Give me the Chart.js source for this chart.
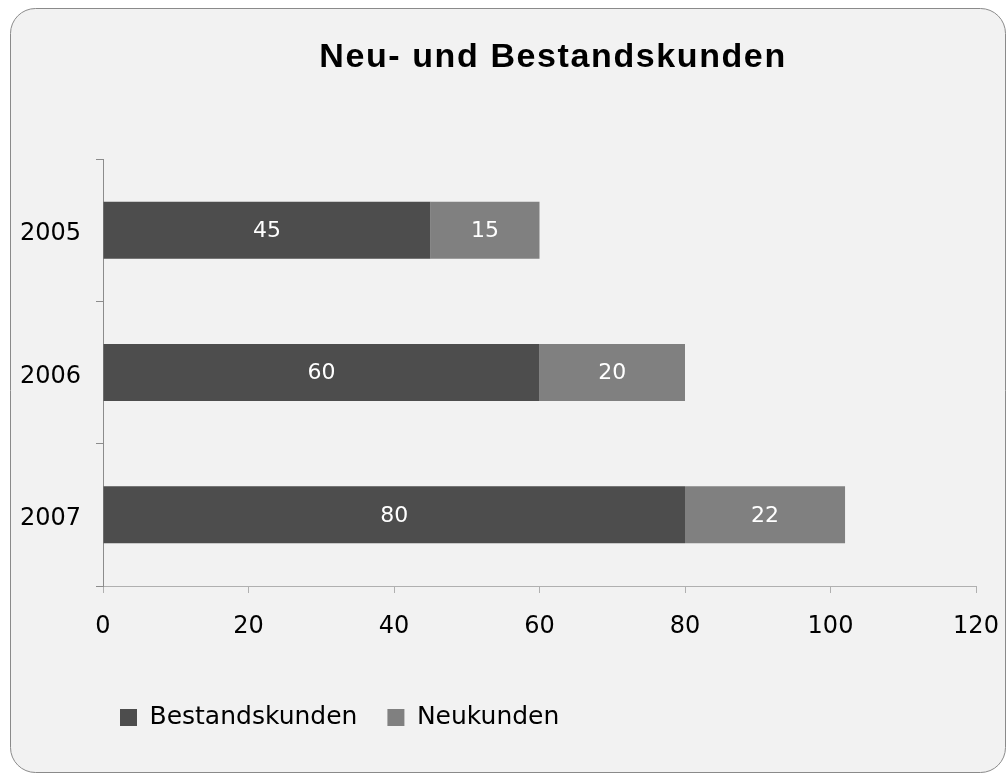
<!DOCTYPE html>
<html>
<head>
<meta charset="utf-8">
<script src="https://cdn.jsdelivr.net/npm/chart.js@4/dist/chart.umd.min.js"></script>
<style>
    html, body { margin: 0; padding: 0; background: #ffffff; }
    #wrap { width: 1007px; height: 774px; position: relative; }
</style>
</head>
<body>
<div id="wrap"><canvas id="kundenChart"></canvas></div>
<script>
// --- Daten ---
const years = ['2005', '2006', '2007'];
const bestandskunden = [45, 60, 80];
const neukunden = [15, 20, 22];
const xMax = 120;
const xStep = 20;
const chartTitle = 'Neu- und Bestandskunden';

Chart.defaults.font.family = "'DejaVu Sans', Verdana, sans-serif";
Chart.defaults.color = '#000000';

// Hintergrund mit abgerundetem Rahmen + Titel
const framePlugin = {
    id: 'frame',
    afterLayout(chart) {
        // Legende etwas nach links, wie im Original
        if (chart.legend) chart.legend.left = 90;
    },
    beforeDraw(chart) {
        const ctx = chart.ctx;
        ctx.save();
        ctx.beginPath();
        ctx.roundRect(10.5, 8.5, 995, 764, 25);
        ctx.fillStyle = '#f2f2f2';
        ctx.fill();
        ctx.strokeStyle = '#8a8a8a';
        ctx.lineWidth = 1;
        ctx.stroke();

        ctx.font = "bold 34px 'Liberation Sans', Arial, sans-serif";
        ctx.fillStyle = '#000000';
        ctx.textAlign = 'center';
        ctx.textBaseline = 'alphabetic';
        if ('letterSpacing' in ctx) ctx.letterSpacing = '1.6px';
        ctx.fillText(chartTitle, 553, 67);
        ctx.restore();
    }
};

// Werte in die Balken schreiben
const valueLabels = {
    id: 'valueLabels',
    afterDatasetsDraw(chart) {
        const ctx = chart.ctx;
        ctx.save();
        ctx.font = "22px 'DejaVu Sans', Verdana, sans-serif";
        ctx.fillStyle = '#ffffff';
        ctx.textAlign = 'center';
        ctx.textBaseline = 'middle';
        chart.data.datasets.forEach((ds, i) => {
            chart.getDatasetMeta(i).data.forEach((bar, j) => {
                const cx = (bar.x + bar.base) / 2;
                ctx.fillText(String(ds.data[j]), cx, bar.y + 1);
            });
        });
        ctx.restore();
    }
};

const ctx = document.getElementById('kundenChart').getContext('2d');
new Chart(ctx, {
    type: 'bar',
    data: {
        labels: years,
        datasets: [
            { label: 'Bestandskunden', data: bestandskunden, backgroundColor: '#4d4d4d' },
            { label: 'Neukunden', data: neukunden, backgroundColor: '#808080' }
        ]
    },
    options: {
        indexAxis: 'y',
        responsive: true, maintainAspectRatio: false, animation: false,
        layout: { padding: { left: 0, right: 31, top: 159, bottom: 34 } },
        datasets: { bar: { categoryPercentage: 1, barPercentage: 0.4 } },
        scales: {
            x: {
                stacked: true, min: 0, max: xMax,
                ticks: { stepSize: xStep, padding: 19, font: { size: 24 }, color: '#000000' },
                grid: { drawOnChartArea: false, tickLength: 7, color: '#b0b0b0' },
                border: { color: '#b0b0b0', width: 1 },
                afterFit(scale) {
                    scale.height = 89;
                    scale.paddingLeft = 0;
                    scale.paddingRight = 0;
                }
            },
            y: {
                stacked: true,
                ticks: { padding: 15, labelOffset: 4, font: { size: 24 }, color: '#000000' },
                grid: { drawOnChartArea: false, tickLength: 7, offset: true, color: '#8c8c8c' },
                border: { color: '#8c8c8c', width: 1 },
                afterFit(scale) { scale.width = 103; }
            }
        },
        plugins: {
            title: { display: false },
            tooltip: { enabled: false },
            legend: {
                position: 'bottom', align: 'start',
                labels: { boxWidth: 17, boxHeight: 17, padding: 30, font: { size: 25 }, color: '#000000' }
            }
        }
    },
    plugins: [framePlugin, valueLabels]
});
</script>
</body>
</html>
